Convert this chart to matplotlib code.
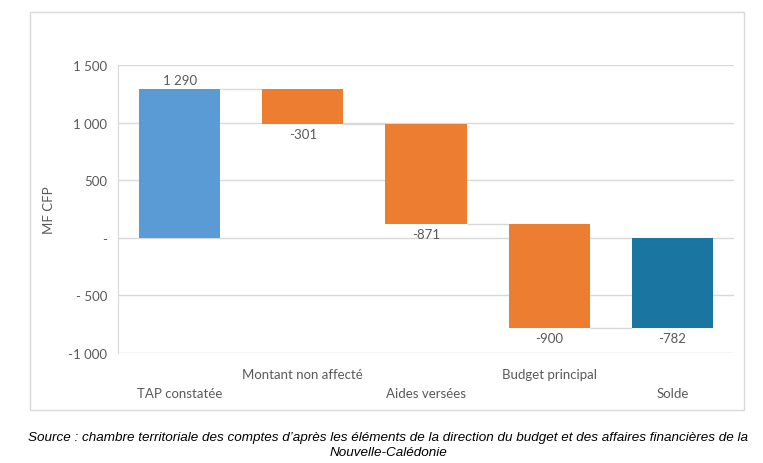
import matplotlib
matplotlib.use("Agg")
import matplotlib.pyplot as plt
from matplotlib.patches import Rectangle
import matplotlib.transforms as mtrans
import numpy as np

categories = ["TAP constatée", "Montant non affecté", "Aides versées", "Budget principal", "Solde"]
values = [1290, -301, -871, -900, -782]
kinds = ["total", "delta", "delta", "delta", "total"]
label_texts = ["1 290", "-301", "-871", "-900", "-782"]
yticks = [-1000, -500, 0, 500, 1000, 1500]
ytick_labels = ["-1 000", "- 500", "-", "500", "1 000", "1 500"]

colors = ["#5B9BD5", "#ED7D31", "#ED7D31", "#ED7D31", "#1A76A0"]
txt = "#595959"
FONT = "Lato"

W, H = 763, 464
fig = plt.figure(figsize=(W/100, H/100), dpi=100)

# outer frame
fig.patches.append(Rectangle((30/W, 1-411/H), (744-30)/W, (411-13)/H,
                             transform=fig.transFigure, fill=False,
                             edgecolor="#D9D9D9", linewidth=1.0))

ax = fig.add_axes([118/W, 1-354/H, (734-118)/W, (354-66)/H])
ax.set_ylim(-1000, 1500)
ax.set_xlim(-0.5, len(categories)-0.5)

# compute waterfall bottoms
bottoms, tops = [], []
cum = 0
for v, k in zip(values, kinds):
    if k == "total":
        b, t = 0, v
        cum = v
    else:
        b, t = cum, cum + v
        cum = cum + v
    bottoms.append(min(b, t))
    tops.append(max(b, t))
heights = [t - b for b, t in zip(bottoms, tops)]
x = np.arange(len(categories))
bw = 0.66
ax.bar(x, heights, bottom=bottoms, width=bw, color=colors, zorder=3)

# connectors
cum = 0
levels = []
for v, k in zip(values, kinds):
    cum = v if k == "total" else cum + v
    levels.append(cum)
for i in range(len(categories)-1):
    ax.hlines(levels[i], x[i]+bw/2, x[i+1]-bw/2, color="#D9D9D9", lw=1.0, zorder=2)

# data labels
for i, v in enumerate(values):
    if v >= 0:
        ax.annotate(label_texts[i], (x[i], tops[i]), xytext=(0, 2), textcoords="offset points",
                    ha="center", va="bottom", fontsize=9.5, color=txt, family=FONT)
    else:
        ax.annotate(label_texts[i], (x[i], bottoms[i]), xytext=(0, -3), textcoords="offset points",
                    ha="center", va="top", fontsize=9.5, color=txt, family=FONT)

ax.set_yticks(yticks)
ax.set_yticklabels(ytick_labels, family=FONT, fontsize=9.5, color=txt)
ax.tick_params(axis="y", length=0, pad=8)
ax.set_xticks([])
ax.grid(axis="y", color="#D9D9D9", lw=1.0, zorder=0)
for s in ["top", "right", "bottom"]:
    ax.spines[s].set_visible(False)
ax.spines["left"].set_color("#D9D9D9")

# staggered category labels
trans = mtrans.blended_transform_factory(ax.transData, fig.transFigure)
for i, c in enumerate(categories):
    yy = 375 if i % 2 == 1 else 394
    ax.text(x[i], 1-yy/H, c, transform=trans, ha="center", va="center",
            fontsize=9.5, color=txt, family=FONT)

ax.set_ylabel("MF CFP", family=FONT, fontsize=9.5, color=txt)
ax.yaxis.set_label_coords(55/W, 1-210/H, transform=fig.transFigure)

fig.text(0.5+7/W, 1-438/H, "Source : chambre territoriale des comptes d\u2019après les éléments de la direction du budget et des affaires financières de la",
         ha="center", va="center", fontsize=9.7, style="italic", family="Liberation Sans", color="black")
fig.text(0.5+7/W, 1-453/H, "Nouvelle-Calédonie",
         ha="center", va="center", fontsize=9.7, style="italic", family="Liberation Sans", color="black")

fig.savefig("out.png", dpi=100)
